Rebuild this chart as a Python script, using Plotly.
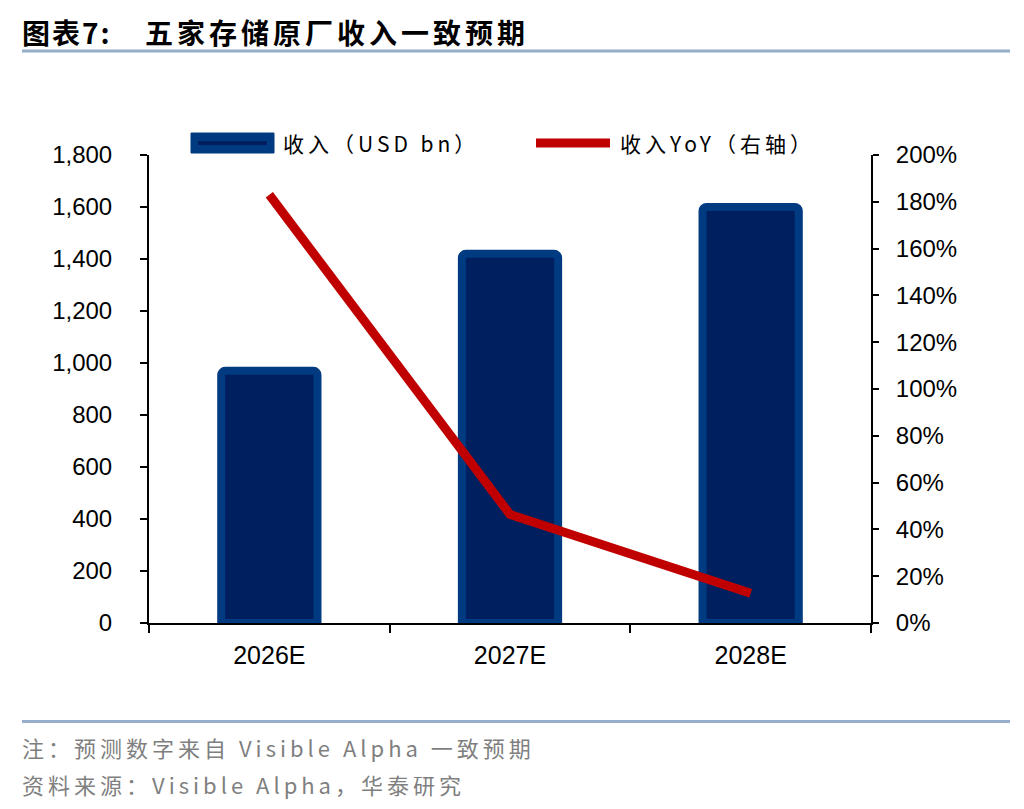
import plotly.graph_objects as go

years = ['2026E', '2027E', '2028E']
revenue = [970, 1420, 1600]       # USD bn
revenue_yoy = [183, 46.4, 12.7]   # %

left_ticks = list(range(0, 1801, 200))
right_ticks = list(range(0, 201, 20))
right_labels = [f'{v}%' for v in right_ticks]

# page has an 8px body margin, so work in reference pixels and shift
OFF = 8
W, H = 1024 - OFF, 809 - OFF
PL, PR, PT, PB = 149 - OFF, 871 - OFF, 155 - OFF, 623.5 - OFF
def X(px):
    return (px - OFF - PL) / (PR - PL)
def Y(py):
    return (PB - (py - OFF)) / (PB - PT)

FONT = 'Liberation Sans, Noto Sans CJK SC, sans-serif'
CJK = 'Noto Sans CJK SC, Liberation Sans, sans-serif'
BAR_EDGE = '#003A80'
BAR_FILL = '#001F5F'
RED = '#C00000'
GREY = '#7F7F7F'
RULE = '#97AECB'

fig = go.Figure()
fig.add_trace(go.Bar(x=years, y=revenue, name='收入（USD bn）', width=0.4,
                     marker=dict(color=BAR_FILL, line=dict(color=BAR_EDGE, width=8), cornerradius=4),
                     showlegend=False))
fig.add_trace(go.Scatter(x=years, y=revenue_yoy, name='收入YoY（右轴）', yaxis='y2', mode='lines',
                         line=dict(color=RED, width=9), showlegend=False))

fig.update_layout(
    width=W, height=H, plot_bgcolor='white', paper_bgcolor='white',
    margin=dict(l=PL, r=W - PR, t=PT, b=H - PB),
    font=dict(family=FONT, size=24, color='black'),
    xaxis=dict(showline=True, linecolor='black', linewidth=2, ticks='outside', ticklen=8, tickwidth=2,
               tickcolor='black', tickson='boundaries', showgrid=False, tickfont=dict(size=25),
               ticklabelstandoff=9),
    yaxis=dict(range=[0, 1800], tickvals=left_ticks, tickformat=',', showline=True, linecolor='black',
               linewidth=2, ticks='outside', ticklen=7, tickwidth=2, tickcolor='black', showgrid=False,
               zeroline=False, ticklabelstandoff=23),
    yaxis2=dict(range=[0, 200], tickvals=right_ticks, ticktext=right_labels, overlaying='y', side='right',
                showline=True, linecolor='black', linewidth=2, ticks='outside', ticklen=6, tickwidth=2,
                tickcolor='black', showgrid=False, zeroline=False, ticklabelstandoff=12),
)

shapes = [
    # header / footer rules
    dict(type='line', xref='paper', yref='paper', x0=X(22), x1=X(1010), y0=Y(51), y1=Y(51),
         line=dict(color=RULE, width=3)),
    dict(type='line', xref='paper', yref='paper', x0=X(22), x1=X(1010), y0=Y(722), y1=Y(722),
         line=dict(color=RULE, width=3)),
    # legend swatches
    dict(type='rect', xref='paper', yref='paper', x0=X(191), x1=X(274), y0=Y(133), y1=Y(153),
         fillcolor=BAR_EDGE, line=dict(color=BAR_EDGE, width=1)),
    dict(type='line', xref='paper', yref='paper', x0=X(198), x1=X(267), y0=Y(143), y1=Y(143),
         line=dict(color=BAR_FILL, width=4)),
    dict(type='line', xref='paper', yref='paper', x0=X(536), x1=X(610), y0=Y(143), y1=Y(143),
         line=dict(color=RED, width=9)),
]
fig.update_layout(shapes=shapes)

def note(px, py, text, size, color='black', family=CJK, weight=None):
    fig.add_annotation(xref='paper', yref='paper', x=X(px), y=Y(py), text=text, showarrow=False,
                       xanchor='left', yanchor='middle',
                       font=dict(size=size, color=color, family=family, weight=weight))

note(20, 32, '<span style="letter-spacing:2px">图表7:</span>', 28, weight='bold')
note(143, 32, '<span style="letter-spacing:4px">五家存储原厂收入一致预期</span>', 28, weight='bold')
note(281, 143, '<span style="letter-spacing:4px">收入（USD bn）</span>', 21)
note(618, 143, '<span style="letter-spacing:4px">收入YoY（右轴）</span>', 21)
note(20, 748, '<span style="letter-spacing:4px">注：预测数字来自 Visible Alpha 一致预期</span>', 22, color=GREY)
note(20, 785, '<span style="letter-spacing:4px">资料来源：Visible Alpha，华泰研究</span>', 22, color=GREY)

fig.write_html('out.html')
